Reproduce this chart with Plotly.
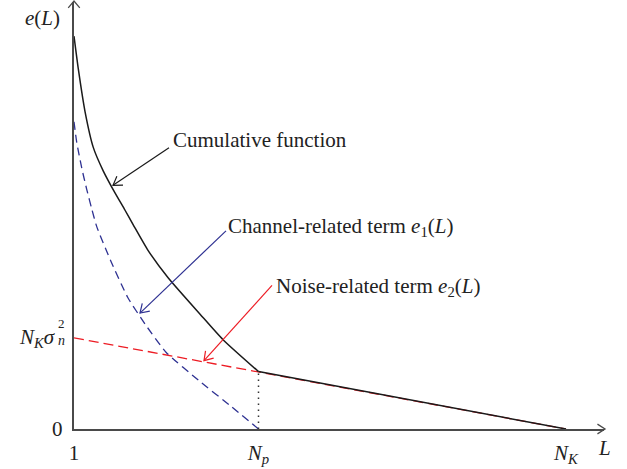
import math
import plotly.graph_objects as go

# ---------------- data ----------------
NP = 10.0   # position of N_p on the L axis (arbitrary units)
NK = 25.0   # position of N_K on the L axis

x_tick_vals = [1, NP, NK]
x_tick_text = ["1", "<i>N<sub>p</sub></i>", "<i>N<sub>K</sub></i>"]
y_tick_vals = [0, 1.0]
y_tick_text = ["0", "<i>N<sub>K</sub>σ</i>"]
sigma_sup = "2"
sigma_sub = "<i>n</i>"

# cumulative function e(L), curved part (1 .. N_p)
cum_L = [1.0, 1.21, 1.54, 1.94, 2.43, 3.0, 3.49, 3.89, 4.61, 5.59, 7.15, 8.27, 10.0]
cum_e = [4.31, 3.95, 3.48, 3.09, 2.83, 2.59, 2.40, 2.24, 1.96, 1.66, 1.26, 0.98, 0.63]
# cumulative function, straight part (N_p .. N_K)
cum_lin_L = [10.0, 25.0]
cum_lin_e = [0.63, 0.0]

# channel-related term e1(L)
ch_L = [1.0, 1.13, 1.38, 1.62, 1.86, 2.11, 2.8, 3.63, 4.5, 5.5, 7.15, 8.6, 10.0]
ch_e = [3.37, 3.15, 2.86, 2.63, 2.42, 2.22, 1.84, 1.44, 1.14, 0.84, 0.52, 0.26, 0.0]

# noise-related term e2(L)
noise_L = [1.0, 25.0]
noise_e = [1.0, 0.0]

# ---------------- layout geometry ----------------
W, H = 627, 469
L_M, R_M, T_M, B_M = 74, 23, 2, 36
PW = W - L_M - R_M
PH = H - T_M - B_M
X_PER_UNIT = 20.5
Y_PER_UNIT = 92.0
x_range = [1.0, 1.0 + PW / X_PER_UNIT]
y_range = [0.0, PH / Y_PER_UNIT]

FONT = "Liberation Serif"
TXT = "#222222"
BLACK = "#1a1a1a"
BLUE = "#2e3192"
RED = "#ed1c24"
AXIS = "#4a4a4a"


def pxx(xp):
    return (xp - L_M) / PW


def pxy(yp):
    return (T_M + PH - yp) / PH


shapes = []


def chevron(tail, tip, color, length=10.0, ang=33.0, width=1.2):
    dx, dy = tail[0] - tip[0], tail[1] - tip[1]
    n = math.hypot(dx, dy)
    dx, dy = dx / n, dy / n
    pts = []
    for s in (1, -1):
        a = math.radians(ang * s)
        rx = dx * math.cos(a) - dy * math.sin(a)
        ry = dx * math.sin(a) + dy * math.cos(a)
        pts.append((tip[0] + length * rx, tip[1] + length * ry))
    path = "M {} {} L {} {} L {} {}".format(
        pxx(pts[0][0]), pxy(pts[0][1]), pxx(tip[0]), pxy(tip[1]),
        pxx(pts[1][0]), pxy(pts[1][1]))
    shapes.append(dict(type="path", xref="paper", yref="paper", path=path,
                       line=dict(color=color, width=width)))


def pointer(tail, tip, color):
    shapes.append(dict(type="line", xref="paper", yref="paper",
                       x0=pxx(tail[0]), y0=pxy(tail[1]),
                       x1=pxx(tip[0]), y1=pxy(tip[1]),
                       line=dict(color=color, width=1.2)))
    chevron(tail, tip, color)


# axis arrow heads
chevron((L_M, 100), (L_M, T_M - 1), AXIS, length=9, ang=40, width=1.3)
chevron((300, T_M + PH), (W - R_M + 1, T_M + PH), AXIS, length=9, ang=33, width=1.3)

# annotation pointers
pointer((169, 149), (113, 187), BLACK)
pointer((226, 233), (140, 316), BLUE)
pointer((272, 288), (204, 364), RED)

fig = go.Figure()

fig.add_trace(go.Scatter(x=noise_L, y=noise_e, mode="lines",
                         line=dict(color=RED, width=1.3, dash="10px,5px")))
fig.add_trace(go.Scatter(x=ch_L, y=ch_e, mode="lines",
                         line=dict(color=BLUE, width=1.3, dash="8px,5px",
                                   shape="spline", smoothing=0.5)))
fig.add_trace(go.Scatter(x=cum_L, y=cum_e, mode="lines",
                         line=dict(color=BLACK, width=1.5,
                                   shape="spline", smoothing=0.6)))
fig.add_trace(go.Scatter(x=cum_lin_L, y=cum_lin_e, mode="lines",
                         line=dict(color=BLACK, width=1.5)))
fig.add_trace(go.Scatter(x=[NP, NP], y=[0, cum_lin_e[0]], mode="lines",
                         line=dict(color="#333333", width=1.5, dash="1.5px,4.5px")))

annotations = [
    dict(text="Cumulative function", x=pxx(171), y=pxy(141)),
    dict(text="Channel-related term <i>e</i><sub>1</sub>(<i>L</i>)", x=pxx(226), y=pxy(229)),
    dict(text="Noise-related term <i>e</i><sub>2</sub>(<i>L</i>)", x=pxx(274), y=pxy(290)),
]
for a in annotations:
    a.update(xref="paper", yref="paper", xanchor="left", yanchor="middle",
             showarrow=False, font=dict(family=FONT, size=21, color=TXT))

# y tick labels (drawn as text next to the axis so that sigma can carry stacked scripts)
annotations.append(dict(text=y_tick_text[0], x=pxx(64), y=y_tick_vals[0], xref="paper", yref="y",
                        xanchor="right", yanchor="middle", showarrow=False, borderpad=0,
                        font=dict(family=FONT, size=21, color=TXT)))
annotations.append(dict(text=y_tick_text[1], x=pxx(56.5), y=y_tick_vals[1], xref="paper", yref="y",
                        xanchor="right", yanchor="middle", showarrow=False, borderpad=0,
                        font=dict(family=FONT, size=21, color=TXT)))
annotations.append(dict(text=sigma_sup, x=pxx(61.5), y=pxy(327), xref="paper", yref="paper",
                        xanchor="center", yanchor="middle", showarrow=False, borderpad=0,
                        font=dict(family=FONT, size=13, color=TXT)))
annotations.append(dict(text=sigma_sub, x=pxx(61.5), y=pxy(343.5), xref="paper", yref="paper",
                        xanchor="center", yanchor="middle", showarrow=False, borderpad=0,
                        font=dict(family=FONT, size=14, color=TXT)))

annotations.append(dict(text="<i>L</i>", x=pxx(604), y=pxy(452), xref="paper", yref="paper",
                        xanchor="center", yanchor="middle", showarrow=False,
                        font=dict(family=FONT, size=21, color=TXT)))
annotations.append(dict(text="<i>e</i>(<i>L</i>)", x=pxx(42), y=pxy(18), xref="paper", yref="paper",
                        xanchor="center", yanchor="middle", showarrow=False,
                        font=dict(family=FONT, size=21, color=TXT)))

fig.update_layout(
    width=W, height=H,
    margin=dict(l=L_M, r=R_M, t=T_M, b=B_M),
    paper_bgcolor="white", plot_bgcolor="white",
    showlegend=False,
    shapes=shapes,
    annotations=annotations,
    font=dict(family=FONT, size=21, color=TXT),
    xaxis=dict(range=x_range, tickvals=x_tick_vals, ticktext=x_tick_text,
               showgrid=False, zeroline=False, showline=True, linecolor=AXIS,
               linewidth=1.5, ticks="outside", ticklen=4, tickcolor="rgba(0,0,0,0)",
               fixedrange=True),
    yaxis=dict(range=y_range, tickvals=y_tick_vals, showticklabels=False,
               showgrid=False, zeroline=False, showline=True, linecolor=AXIS,
               linewidth=1.5, ticks="", fixedrange=True),
)

fig.write_html("out.html", config={"displayModeBar": False},
               post_script="document.body.style.margin='0px';")
